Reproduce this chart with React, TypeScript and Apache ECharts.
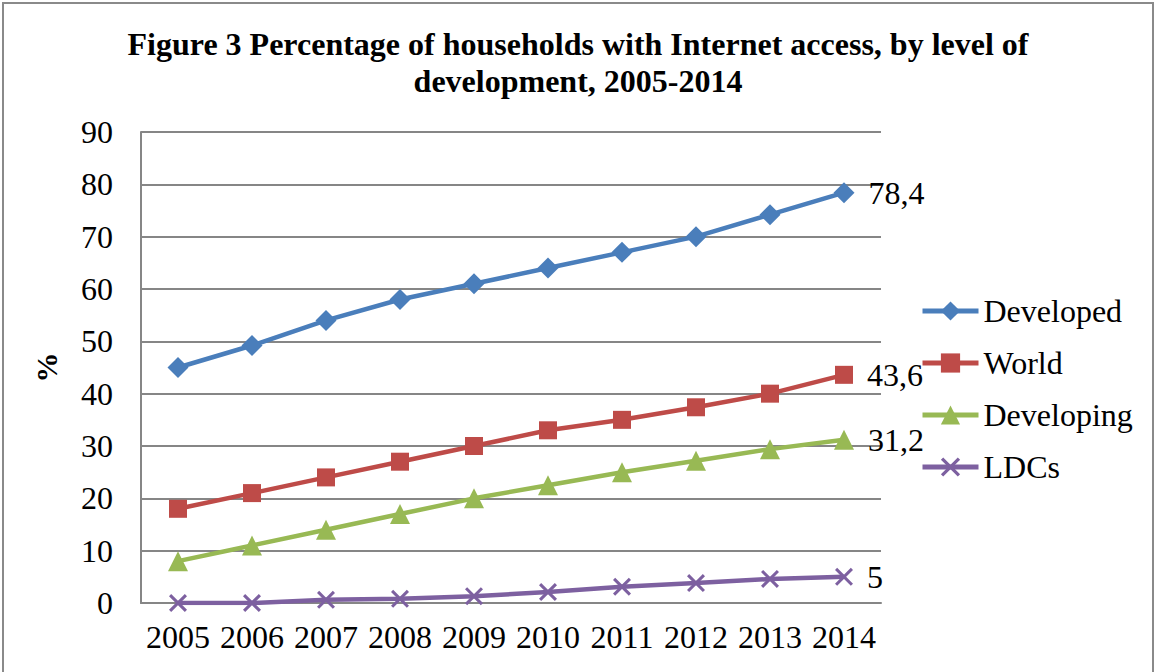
import React, { useEffect, useRef } from "react";
import * as echarts from "echarts";

const years = ["2005", "2006", "2007", "2008", "2009", "2010", "2011", "2012", "2013", "2014"];
const developed = [45, 49.2, 54, 58, 61, 64, 67, 70, 74.2, 78.4];
const world = [18, 21, 24, 27, 30, 33, 35, 37.4, 40, 43.6];
const developing = [8, 11, 14, 17, 20, 22.5, 25, 27.2, 29.4, 31.2];
const ldcs = [0, 0, 0.6, 0.8, 1.3, 2.1, 3.1, 3.8, 4.6, 5];

const seriesNames = ["Developed", "World", "Developing", "LDCs"];
const seriesColors = ["#4A7EBB", "#BE4B48", "#98B954", "#7D60A0"];
const crossPath = "path://M0,1.2 L1.2,0 L10,8.8 L8.8,10 Z M8.8,0 L10,1.2 L1.2,10 L0,8.8 Z";
const symbols = ["diamond", "rect", "triangle", crossPath];
const symbolSizes = [21, 18, 20, 18];

const FONT = "'Liberation Serif', 'Times New Roman', serif";

export default function App() {
  const ref = useRef<HTMLDivElement>(null);
  useEffect(() => {
    if (!ref.current) return;
    const chart = echarts.init(ref.current, null, { renderer: "svg" });
    const allData = [developed, world, developing, ldcs];
    const series = allData.map((arr, i) => ({
      name: seriesNames[i],
      type: "line",
      data: arr.map((v, j) =>
        j === arr.length - 1
          ? {
              value: v,
              label: {
                show: true,
                position: "right",
                distance: 14,
                fontFamily: FONT,
                fontSize: 32,
                color: "#000",
                formatter: (p: any) => String(p.value).replace(".", ","),
              },
            }
          : v
      ),
      symbol: symbols[i],
      symbolSize: symbolSizes[i],
      showAllSymbol: true,
      lineStyle: { color: seriesColors[i], width: 4.5 },
      itemStyle: { color: seriesColors[i] },
      z: 10 - i,
    }));
    chart.setOption({
      animation: false,
      backgroundColor: "#fff",
      title: {
        text: "Figure 3 Percentage of households with Internet access, by level of\ndevelopment, 2005-2014",
        left: "center",
        top: 20,
        textStyle: {
          fontFamily: FONT,
          fontWeight: "bold",
          fontSize: 32,
          lineHeight: 37,
          color: "#000",
        },
      },
      legend: {
        orient: "vertical",
        left: 920,
        top: 295,
        padding: 0,
        itemWidth: 56,
        itemHeight: 24,
        itemGap: 20,
        data: seriesNames,
        lineStyle: { width: 5 },
        textStyle: { fontFamily: FONT, fontSize: 32, color: "#000", lineHeight: 32 },
      },
      grid: { left: 141, right: 275, top: 132, bottom: 69, containLabel: false },
      xAxis: {
        type: "category",
        data: years,
        boundaryGap: true,
        axisLine: { show: true, lineStyle: { color: "#868686", width: 2 } },
        axisTick: { show: false },
        axisLabel: { fontFamily: FONT, fontSize: 32, color: "#000", margin: 18, interval: 0 },
      },
      yAxis: {
        type: "value",
        min: 0,
        max: 90,
        interval: 10,
        name: "%",
        nameLocation: "middle",
        nameGap: 80,
        nameRotate: 90,
        nameTextStyle: { fontFamily: FONT, fontSize: 30, fontWeight: "bold", color: "#000" },
        axisLine: { show: true, lineStyle: { color: "#868686", width: 2 } },
        axisTick: { show: false },
        splitLine: { show: true, lineStyle: { color: "#868686", width: 2 } },
        axisLabel: { fontFamily: FONT, fontSize: 32, color: "#000", margin: 28 },
      },
      graphic: [
        {
          type: "rect",
          shape: { x: 3, y: 3, width: 1150, height: 690 },
          style: { fill: "none", stroke: "#8a8a8a", lineWidth: 2 },
          silent: true,
        },
      ],
      series,
    });
    return () => chart.dispose();
  }, []);
  return (
    <div
      ref={ref}
      style={{ position: "fixed", left: 0, top: 0, width: 1156, height: 672 }}
    />
  );
}
